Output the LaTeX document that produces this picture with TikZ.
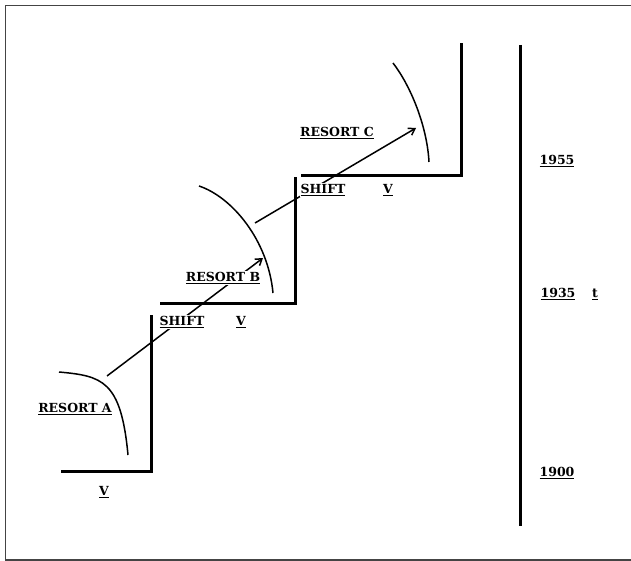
\documentclass[tikz,border=0pt]{standalone}
\usepackage{fontspec}
\setmainfont{DejaVu Serif}
\usetikzlibrary{arrows.meta}
\definecolor{framecol}{HTML}{444444}

\begin{document}
\begin{tikzpicture}[
    x=1pt, y=-1pt,
    stair/.style={line width=3pt, line cap=rect},
    resortcurve/.style={line width=1.5pt},
    shiftarrow/.style={-{Straight Barb[length=6pt, width=8pt]}, line width=1.5pt},
    lbl/.style={font=\fontsize{12.5}{14}\selectfont\bfseries, fill=white, inner sep=1pt},
    axis/.style={line width=3pt},
]
\useasboundingbox (0,0) rectangle (631,561);

% ============================================================
%  Frame
% ============================================================
\draw[framecol, line width=1.5pt] (631,5.5) -- (5.5,5.5) -- (5.5,560) -- (631,560);

% ============================================================
%  Steps
% ============================================================
\draw[stair] (62,471) -- (151,471) -- (151,316);
\draw[stair] (161,303) -- (295,303) -- (295,179);
\draw[stair] (302,176) -- (461,176) -- (461,45);

% ============================================================
%  Resort curves
% ============================================================
\draw[resortcurve] (59,372) .. controls (102,376) and (121,380) .. (128,455);
\draw[resortcurve] (199,186) .. controls (232,197) and (268,240) .. (273,293);
\draw[resortcurve] (393,63) .. controls (410,85) and (427,125) .. (429,162);

% ============================================================
%  Shift arrows
% ============================================================
\coordinate (tailA) at (107,376);
\coordinate (headA) at (263,258);
\coordinate (tailB) at (255,223);
\coordinate (headB) at (416,128);
\draw[shiftarrow] (tailA) -- (headA);
\draw[shiftarrow] (tailB) -- (headB);

% ============================================================
%  Labels
% ============================================================
\node[lbl] (resortA) at (75,409) {\underline{RESORT A}};
\node[lbl] (vA) at (104,492) {\underline{V}};

\node[lbl] (shiftA) at (182,322) {\underline{SHIFT}};
\node[lbl] (vB) at (241,322) {\underline{V}};
\node[lbl] (resortB) at (223,278) {\underline{RESORT B}};

\node[lbl] (shiftB) at (323,190) {\underline{SHIFT}};
\node[lbl] (vC) at (388,190) {\underline{V}};
\node[lbl] (resortC) at (337,133) {\underline{RESORT C}};

% ============================================================
%  Time axis
% ============================================================
\draw[axis] (520,45) -- (520,526);
\node[lbl] (y1955) at (557,161) {\underline{1955}};
\node[lbl] (y1935) at (558,294) {\underline{1935}};
\node[lbl] (taxis) at (595,294) {\underline{t}};
\node[lbl] (y1900) at (557,473) {\underline{1900}};

\end{tikzpicture}
\end{document}
